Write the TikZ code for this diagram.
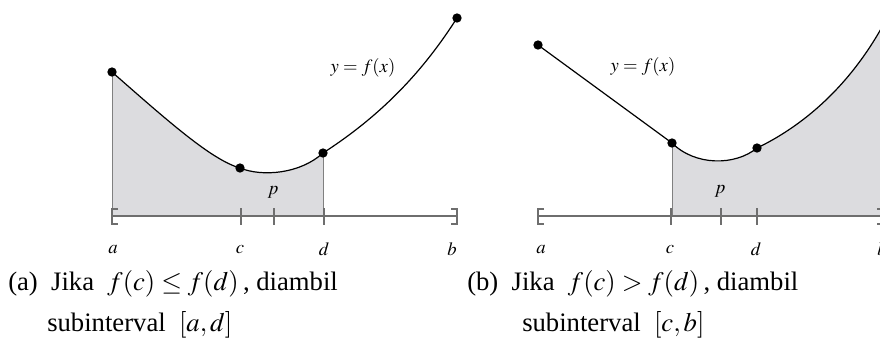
\documentclass[tikz,border=0pt]{standalone}
\usepackage{mathptmx}
\usepackage{fontspec}
\setmainfont{Liberation Serif}
\usetikzlibrary{positioning}
\definecolor{areagray}{RGB}{220,220,223}
\definecolor{axisgray}{RGB}{110,110,110}

\begin{document}
\begin{tikzpicture}[x=0.75pt,y=-0.75pt,
  every node/.style={inner sep=0pt},
  curve/.style={line width=0.9pt,black},
  axis/.style={line width=0.8pt,axisgray},
  edge/.style={line width=0.5pt,gray},
  dot/.style={circle,fill=black,minimum size=7pt},
  lbl/.style={font=\fontsize{14}{16}\selectfont},
  captext/.style={font=\fontsize{20}{24}\selectfont,anchor=base west}]
  \clip (0,0) rectangle (880,351);
  \useasboundingbox (0,0) rectangle (880,351);
  % left panel: subinterval [a,d]
  \coordinate (la) at (112,72); \coordinate (lc) at (240,168);
  \coordinate (ld) at (323,153); \coordinate (lb) at (457,18);
  \fill[areagray] (112,216) -- (la) .. controls (170,123) and (212,160) .. (lc)
    .. controls (262,177) and (300,174) .. (ld) -- (323,216) -- cycle;
  \draw[edge] (112,216) -- (la); \draw[edge] (323,216) -- (ld);
  \draw[curve] (la) .. controls (170,123) and (212,160) .. (lc)
    .. controls (262,177) and (300,174) .. (ld)
    .. controls (385,113) and (425,68) .. (lb);
  \draw[axis] (118,209) -- (112,209) -- (112,224) -- (118,224);
  \draw[axis] (451,209) -- (457,209) -- (457,224) -- (451,224);
  \draw[axis] (112,216) -- (457,216);
  \foreach \tx in {241,274,324} \draw[axis] (\tx,208) -- (\tx,225);
  \foreach \pt in {la,lc,ld,lb} \node[dot] at (\pt) {};
  \node[lbl] (lf) at (363,68) {$y=f(x)$};
  \node[lbl] (lp) at (273,192) {$p$};
  \node[lbl] (lxa) at (113,250) {$a$};
  \node[lbl] (lxc) at (240,250) {$c$};
  \node[lbl] (lxd) at (324,249) {$d$};
  \node[lbl] (lxb) at (452,249) {$b$};
  % right panel: subinterval [c,b]
  \coordinate (ra) at (538,45); \coordinate (rc) at (672,143);
  \coordinate (rd) at (757,148); \coordinate (rb) at (890,12);
  \fill[areagray] (672,216) -- (rc) .. controls (695,166) and (735,166) .. (rd)
    .. controls (815,120) and (860,72) .. (rb) -- (890,216) -- cycle;
  \draw[edge] (672,216) -- (rc);
  \draw[curve] (ra) -- (rc) .. controls (695,166) and (735,166) .. (rd)
    .. controls (815,120) and (860,72) .. (rb);
  \draw[axis] (544,209) -- (538,209) -- (538,224) -- (544,224);
  \draw[axis] (877,209) -- (883,209) -- (883,224) -- (877,224);
  \draw[axis] (538,216) -- (883,216);
  \foreach \tx in {671,721,757} \draw[axis] (\tx,208) -- (\tx,225);
  \foreach \pt in {ra,rc,rd} \node[dot] at (\pt) {};
  \node[lbl] (rf) at (643,67) {$y=f(x)$};
  \node[lbl] (rp) at (720,191) {$p$};
  \node[lbl] (rxa) at (541,250) {$a$};
  \node[lbl] (rxc) at (670,250) {$c$};
  \node[lbl] (rxd) at (756,249) {$d$};
  \node[lbl] (rxb) at (882,249) {$b$};
  % captions
  \node[captext] (capa1) at (8,290) {(a)\ \ Jika\ \ $f(c)\le f(d)$\,, diambil};
  \node[captext] (capa2) at (47,331) {subinterval\ \ $[a,d]$};
  \node[captext] (capb1) at (467,290) {(b)\ \ Jika\ \ $f(c)>f(d)$\,, diambil};
  \node[captext] (capb2) at (522,331) {subinterval\ \ $[c,b]$};
\end{tikzpicture}
\end{document}
